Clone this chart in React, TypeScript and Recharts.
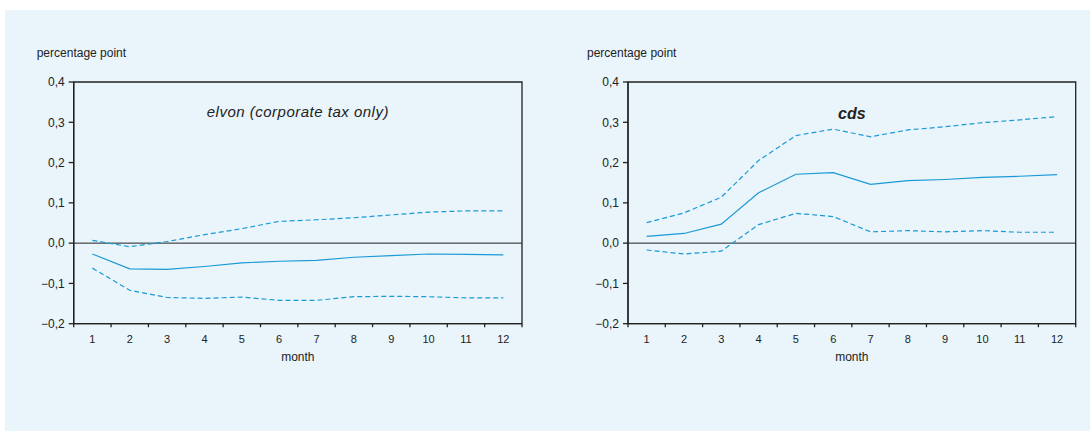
import React from 'react'
import {
  LineChart, Line, XAxis, YAxis, ReferenceLine, ReferenceArea
} from 'recharts'

// month axis and the y ticks (percentage point)
const months = [1, 2, 3, 4, 5, 6, 7, 8, 9, 10, 11, 12]
const yTicks = [-0.2, -0.1, 0, 0.1, 0.2, 0.3, 0.4]

// elvon (corporate tax only): response + bands
const elvonMid = [-0.027, -0.064, -0.065, -0.058, -0.049, -0.045, -0.043, -0.035, -0.031, -0.027, -0.028, -0.029]
const elvonUpper = [0.007, -0.009, 0.004, 0.021, 0.036, 0.054, 0.058, 0.063, 0.070, 0.077, 0.080, 0.080]
const elvonLower = [-0.062, -0.117, -0.135, -0.137, -0.134, -0.142, -0.142, -0.133, -0.132, -0.133, -0.136, -0.136]

// cds
const cdsMid = [0.017, 0.024, 0.047, 0.125, 0.171, 0.175, 0.146, 0.155, 0.158, 0.163, 0.166, 0.170]
const cdsUpper = [0.051, 0.075, 0.114, 0.205, 0.267, 0.283, 0.264, 0.281, 0.289, 0.299, 0.306, 0.314]
const cdsLower = [-0.017, -0.027, -0.020, 0.046, 0.074, 0.066, 0.028, 0.031, 0.028, 0.031, 0.027, 0.027]

const LINE = '#1a9ad6'
const INK = '#222'
const BG = '#e9f4fb'

const buildRows = (mid: number[], upper: number[], lower: number[]) =>
  months.map((m, i) => ({ month: m, mid: mid[i], upper: upper[i], lower: lower[i] }))

// tick marks sit between months, labels sit on months
const xTicks = [
  ...months.flatMap(m => [m - 0.5, m]),
  months[months.length - 1] + 0.5
]

const fmtY = (v: number) => v.toFixed(1).replace('.', ',').replace('-', '\u2212')

const MonthTick = (props: any) => {
  const { x, y, payload } = props
  const v = payload.value
  if (Number.isInteger(v)) {
    return (
      <text x={x} y={y + 19.5} textAnchor="middle" fontSize={11} fill={INK}>
        {v}
      </text>
    )
  }
  return <line x1={x} x2={x} y1={y} y2={y + 3.5} stroke={INK} strokeWidth={1.3} />
}

interface PanelProps {
  left: number
  margin: { top: number; right: number; bottom: number; left: number }
  data: any[]
}

function Panel({ left, margin, data }: PanelProps) {
  return (
    <div style={{ position: 'absolute', left, top: 0 }}>
      <LineChart width={550} height={380} data={data} margin={margin}>
        <XAxis
          dataKey="month"
          type="number"
          domain={[0.5, 12.5]}
          ticks={xTicks}
          interval={0}
          tickLine={false}
          tickSize={0}
          tickMargin={0}
          tick={<MonthTick />}
          stroke={INK}
          strokeWidth={1.3}
          height={40}
          allowDataOverflow
          label={{ value: 'month', position: 'insideBottom', offset: 2.7, fontSize: 12, fill: INK }}
        />
        <YAxis
          type="number"
          domain={[-0.2, 0.4]}
          ticks={yTicks}
          interval={0}
          tickSize={5}
          tickMargin={4}
          tickFormatter={fmtY}
          tick={{ fontSize: 12, fill: INK }}
          stroke={INK}
          strokeWidth={1.3}
          width={40}
          allowDataOverflow
        />
        <ReferenceArea x1={0.5} x2={12.5} y1={-0.2} y2={0.4} fill="none" stroke={INK} strokeWidth={1.3} />
        <ReferenceLine y={0} stroke={INK} strokeWidth={1} />
        <Line type="linear" dataKey="upper" stroke={LINE} strokeWidth={1.2} strokeDasharray="5 3" dot={false} isAnimationActive={false} />
        <Line type="linear" dataKey="lower" stroke={LINE} strokeWidth={1.2} strokeDasharray="5 3" dot={false} isAnimationActive={false} />
        <Line type="linear" dataKey="mid" stroke={LINE} strokeWidth={1.2} dot={false} isAnimationActive={false} />
      </LineChart>
    </div>
  )
}

export default function App() {
  const elvonRows = buildRows(elvonMid, elvonUpper, elvonLower)
  const cdsRows = buildRows(cdsMid, cdsUpper, cdsLower)

  return (
    <div style={{
      position: 'absolute', left: 0, top: 0, width: 1090, height: 431,
      background: '#fff', fontFamily: '"Liberation Sans", Arial, sans-serif', color: INK
    }}>
      <div style={{ position: 'absolute', left: 5, top: 10, width: 1085, height: 421, background: BG }} />

      <div style={{ position: 'absolute', left: 36.7, top: 46.2, fontSize: 12 }}>percentage point</div>
      <div style={{ position: 'absolute', left: 587, top: 46.2, fontSize: 12 }}>percentage point</div>

      <Panel left={0} margin={{ top: 82, right: 28, bottom: 16.3, left: 33.7 }} data={elvonRows} />
      <Panel left={545} margin={{ top: 82, right: 19.3, bottom: 16.3, left: 43 }} data={cdsRows} />

      <div style={{
        position: 'absolute', left: 73.7, width: 448.3, top: 102.8, textAlign: 'center',
        fontSize: 15, fontStyle: 'italic', letterSpacing: 0.5, whiteSpace: 'nowrap'
      }}>
        elvon (corporate tax only)
      </div>
      <div style={{
        position: 'absolute', left: 628, width: 447.7, top: 105.3, textAlign: 'center',
        fontSize: 16, fontStyle: 'italic', fontWeight: 'bold'
      }}>
        cds
      </div>
    </div>
  )
}
